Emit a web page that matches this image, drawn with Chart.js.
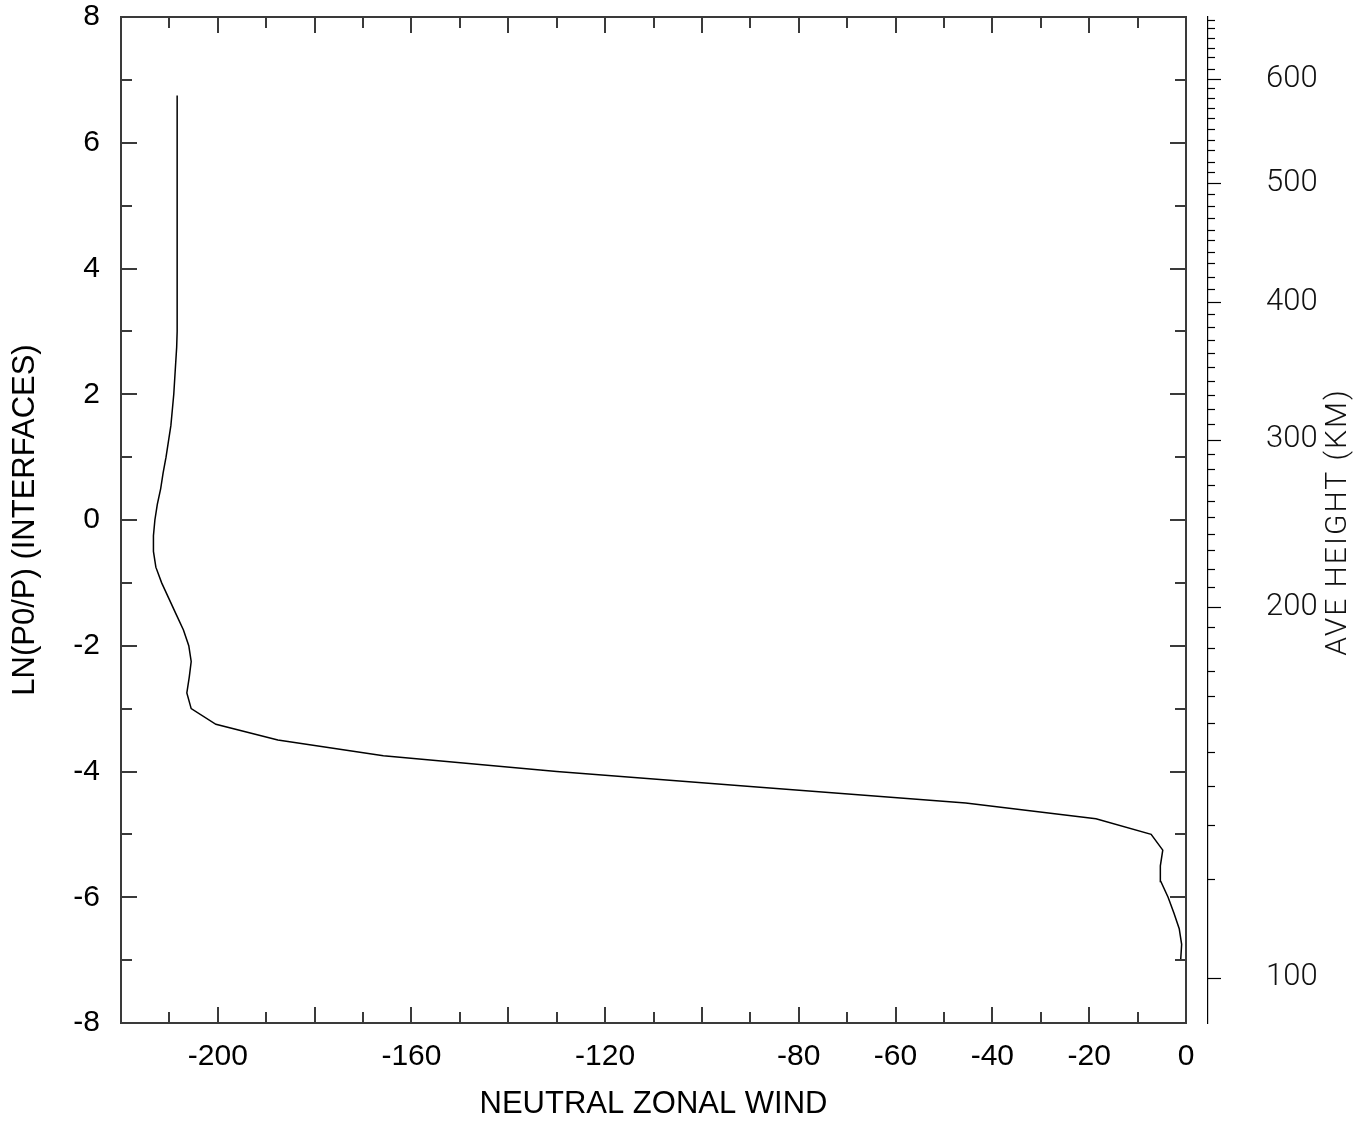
<!DOCTYPE html>
<html><head><meta charset="utf-8">
<script src="https://cdn.jsdelivr.net/npm/chart.js@4.4.0/dist/chart.umd.min.js"></script>
<style>html,body{margin:0;padding:0;background:#fff;overflow:hidden}#wrap{width:1365px;height:1123px;position:relative}</style>
</head><body><div id="wrap"><canvas id="c"></canvas></div>
<script>
// ---- data ----
const levelLn = [-7.0,-6.75,-6.5,-6.25,-6.0,-5.75,-5.5,-5.25,-5.0,-4.75,-4.5,-4.25,-4.0,-3.75,-3.5,-3.25,-3.0,-2.75,-2.5,-2.25,-2.0,-1.75,-1.5,-1.25,-1.0,-0.75,-0.5,-0.25,
  0.0,0.25,0.5,0.75,1.0,1.25,1.5,1.75,2.0,2.25,2.5,2.75,3.0,3.25,3.5,3.75,4.0,4.25,4.5,4.75,5.0,5.25,5.5,5.75,6.0,6.25,6.5,6.75];
const windU = [-1.1,-0.9,-1.4,-2.5,-3.7,-5.2,-5.3,-4.8,-7.2,-18.6,-45.5,-88.0,-130.0,-165.8,-187.6,-200.4,-205.5,-206.4,-205.9,-205.5,-206.0,-207.1,-208.6,-210.1,-211.6,-212.8,-213.3,-213.3,
  -213.0,-212.5,-211.8,-211.3,-210.7,-210.2,-209.7,-209.4,-209.1,-208.9,-208.7,-208.5,-208.4,-208.4,-208.4,-208.4,-208.4,-208.4,-208.4,-208.4,-208.4,-208.4,-208.4,-208.4,-208.4,-208.4,-208.4,-208.4];
const xLabelValues = [-200,-160,-120,-80,-60,-40,-20,0];
const yLabelValues = [-8,-6,-4,-2,0,2,4,6,8];
const heightKm = [100,110,120,130,140,150,160,170,180,190,200,210,220,230,240,250,260,270,280,290,300,310,320,330,340,350,360,370,380,390,
  400,410,420,430,440,450,460,470,480,490,500,510,520,530,540,550,560,570,580,590,600,610,620,630,640,650,660];
const heightLn = [-7.28,-5.71,-4.85,-4.23,-3.69,-3.23,-2.80,-2.40,-2.04,-1.70,-1.38,-1.07,-0.78,-0.48,-0.23,0.04,0.30,0.55,0.81,1.05,1.28,1.53,1.76,1.99,2.21,2.43,2.65,2.86,3.07,3.27,
  3.47,3.67,3.87,4.08,4.27,4.45,4.62,4.81,5.00,5.19,5.36,5.53,5.70,5.88,6.05,6.22,6.39,6.56,6.71,6.87,7.01,7.18,7.36,7.51,7.67,7.82,7.96];
const heightLabelKm = [100,200,300,400,500,600];
const xTitle = 'NEUTRAL ZONAL WIND';
const yTitle = 'LN(P0/P) (INTERFACES)';
const hTitle = 'AVE HEIGHT (KM)';
const xMin = -220, xMax = 0, yMin = -8, yMax = 8;

// ---- chart ----
const MAIN_FONT = "'Liberation Sans', Arial, sans-serif";
const THIN_FONT = "Roboto, 'DejaVu Sans', sans-serif";

const points = levelLn.map((v, i) => ({x: windU[i], y: v}));

const noPad = s => { s.paddingTop = 0; s.paddingBottom = 0; s.paddingLeft = 0; s.paddingRight = 0; };

const frameTicks = {
  id: 'frameTicks',
  afterDraw(chart) {
    const {ctx, chartArea: ca} = chart;
    const xs = chart.scales.x, ys = chart.scales.y, yh = chart.scales.yH;
    const line = (x1, y1, x2, y2) => { ctx.beginPath(); ctx.moveTo(x1, y1); ctx.lineTo(x2, y2); ctx.stroke(); };
    ctx.save();
    ctx.strokeStyle = '#3a3a3a';
    ctx.lineWidth = 2;
    ctx.strokeRect(ca.left, ca.top, ca.right - ca.left, ca.bottom - ca.top);
    for (let u = xMin; u <= xMax; u += 10) {
      const px = Math.round(xs.getPixelForValue(u));
      const len = (u % 20 === 0) ? 16 : 11;
      line(px, ca.bottom, px, ca.bottom - len);
      line(px, ca.top, px, ca.top + len);
    }
    for (let v = yMin; v <= yMax; v += 1) {
      const py = Math.round(ys.getPixelForValue(v));
      const len = (v % 2 === 0) ? 16 : 11;
      line(ca.left, py, ca.left + len, py);
      line(ca.right, py, ca.right - len, py);
    }
    ctx.strokeStyle = '#000';
    ctx.lineWidth = 1.2;
    heightKm.forEach((k, i) => {
      const py = Math.round(yh.getPixelForValue(heightLn[i])) + 0.5;
      const len = (k % 100 === 0) ? 13 : 7;
      line(yh.left, py, yh.left + len, py);
    });
    ctx.translate(yh.right - 27, (ca.top + ca.bottom) / 2 + 2);
    ctx.rotate(-Math.PI / 2);
    ctx.fillStyle = '#111';
    ctx.textAlign = 'center';
    ctx.textBaseline = 'middle';
    ctx.font = "300 30px " + THIN_FONT;
    try { ctx.letterSpacing = '2px'; } catch (e) {}
    ctx.fillText(hTitle, 0, 0);
    ctx.restore();
  }
};

new Chart(document.getElementById('c'), {
  type: 'scatter',
  data: {
    datasets: [{
      data: points,
      showLine: true,
      borderColor: '#000',
      borderWidth: 1.5,
      pointRadius: 0,
      tension: 0,
      fill: false
    }]
  },
  options: {
    responsive: true,
    maintainAspectRatio: false,
    animation: false,
    layout: {padding: {top: 17, left: 0, right: 0, bottom: 0}},
    plugins: {legend: {display: false}, tooltip: {enabled: false}},
    scales: {
      x: {
        type: 'linear', position: 'bottom', min: xMin, max: xMax,
        grid: {display: false}, border: {display: false},
        afterBuildTicks: s => { s.ticks = xLabelValues.map(v => ({value: v})); },
        afterFit: s => { s.height = 100; noPad(s); },
        ticks: {autoSkip: false, maxRotation: 0, padding: 9, color: '#000',
                font: {family: MAIN_FONT, size: 30, lineHeight: 1.1}},
        title: {display: true, text: xTitle, color: '#000', padding: {top: 0, bottom: 0},
                font: {family: MAIN_FONT, size: 31, lineHeight: 1.2}}
      },
      y: {
        type: 'linear', position: 'left', min: yMin, max: yMax,
        grid: {display: false}, border: {display: false},
        afterBuildTicks: s => { s.ticks = yLabelValues.map(v => ({value: v})); },
        afterFit: s => { s.width = 121; noPad(s); },
        ticks: {autoSkip: false, padding: 13, color: '#000',
                font: {family: MAIN_FONT, size: 30, lineHeight: 1.0}},
        title: {display: true, text: yTitle, color: '#000', padding: {top: 7, bottom: 0},
                font: {family: MAIN_FONT, size: 31, lineHeight: 1.2}}
      },
      ySp: {
        type: 'linear', position: 'right', weight: 1, display: true,
        grid: {display: false}, border: {display: false},
        ticks: {display: false},
        afterFit: s => { s.width = 22; noPad(s); }
      },
      yH: {
        type: 'linear', position: 'right', weight: 2, min: yMin, max: yMax,
        grid: {display: false},
        border: {display: true, color: '#000', width: 1.2},
        afterBuildTicks: s => { s.ticks = heightLabelKm.map(k => ({value: heightLn[heightKm.indexOf(k)]})); },
        afterFit: s => { s.width = 157; noPad(s); },
        ticks: {autoSkip: false, padding: 50, color: '#111',
                callback: (val, i) => String(heightLabelKm[i]),
                font: {family: THIN_FONT, size: 31, weight: 300, lineHeight: 1.0}}
      }
    }
  },
  plugins: [frameTicks]
});
</script>
</body></html>
